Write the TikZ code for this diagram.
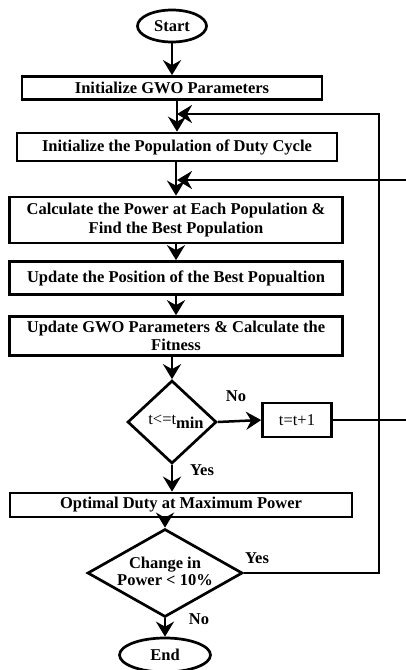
\documentclass[tikz,border=0pt]{standalone}
\usepackage{fontspec}
\setmainfont{Liberation Serif}
\usetikzlibrary{shapes.geometric,arrows.meta}
\begin{document}
\begin{tikzpicture}[x=1pt,y=-1pt,
  txt/.style={font=\fontsize{16.5}{19.5}\selectfont\bfseries},
  box/.style={draw,line width=2.7pt,rectangle,inner sep=0pt,align=center,txt},
  oval/.style={draw,line width=2.7pt,ellipse,inner sep=0pt,txt},
  decision/.style={draw,line width=2.7pt,diamond,inner sep=0pt},
  arr/.style={line width=2.5pt,-{Stealth[length=15pt,width=18pt,inset=5pt]}},
  lbl/.style={txt,inner sep=0pt}]
\useasboundingbox (0,0) rectangle (406,670);
\fill[white] (0,0) rectangle (406,670);

% process steps
\node[oval,minimum width=69pt,minimum height=32pt] (start) at (172,26) {Start};
\node[box,minimum width=300pt,minimum height=23pt] (gwo) at (172,88) {Initialize GWO Parameters};
\node[box,minimum width=320pt,minimum height=28pt] (pop) at (177,147) {Initialize the Population of Duty Cycle};
\node[box,minimum width=333pt,minimum height=46pt] (calc) at (176,220) {Calculate the Power at Each Population \&\\Find the Best Population};
\node[box,minimum width=333pt,minimum height=33pt] (upd) at (176,278) {Update the Position of the Best Popualtion};
\node[box,minimum width=333pt,minimum height=39pt] (fit) at (176,336) {Update GWO Parameters \& Calculate the\\[-1pt]Fitness};
\node[decision,minimum width=89pt,minimum height=83pt] (dec1) at (172,422)
  {\makebox[0pt]{\hspace{8pt}\fontsize{16.5}{19}\selectfont t<=t\raisebox{-4pt}{\bfseries min}}};
\node[box,font=\fontsize{16.5}{19}\selectfont,minimum width=69pt,minimum height=34pt] (inc) at (297,420) {t=t+1};
\node[box,minimum width=342pt,minimum height=24pt] (opt) at (181,505) {Optimal Duty at Maximum Power};
\node[decision,minimum width=155pt,minimum height=88pt] (dec2) at (165,573)
  {\makebox[0pt]{\fontsize{16.5}{19.5}\selectfont\bfseries\begin{tabular}{@{}c@{}}Change in\\[-2pt]Power < 10\%\end{tabular}}};
\node[oval,minimum width=91pt,minimum height=34pt] (stop) at (165,655) {End};

% branch labels
\node[lbl] (no1) at (236,396) {No};
\node[lbl] (yes1) at (202,470) {Yes};
\node[lbl] (yes2) at (257,558) {Yes};
\node[lbl] (no2) at (199,619) {No};

% junctions on the main line where the loops return
\coordinate (j1) at (177,114);
\coordinate (j2) at (177,180);

% main flow
\draw[arr] (start.south) -- (gwo.north -| start);
\draw[arr] (gwo.south -| pop) -- (pop.north);
\draw[arr] (pop.south -| calc) -- (calc.north);
\draw[arr] (calc.south) -- (upd.north);
\draw[arr] (upd.south) -- (fit.north);
\draw[arr] (fit.south -| dec1) -- (dec1.north);
\draw[arr] (dec1.south) -- (opt.north -| dec1);
\draw[arr] (dec1.east) -- (inc.west);
\draw[arr] (opt.south -| dec2) -- (dec2.north);
\draw[arr] (dec2.south) -- (stop.north);

% loops back
\draw[arr] (dec2.east) -- ++(135,0) |- (j1);
\draw[arr] (inc.east) -- ++(90,0) |- (j2);
\end{tikzpicture}
\end{document}
